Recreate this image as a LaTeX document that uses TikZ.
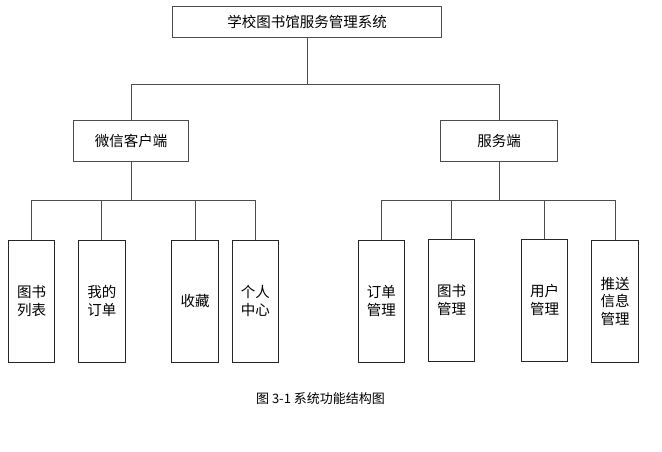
\documentclass[tikz,border=0pt]{standalone}
\usepackage{fontspec}
\setmainfont{Noto Sans CJK SC}
\usetikzlibrary{positioning}

\begin{document}
\begin{tikzpicture}[
  x=1pt, y=-1pt,
  box/.style={rectangle, draw=black!70, line width=1pt, inner sep=0pt, align=center},
  leafbox/.style={rectangle, draw=black!85, line width=1pt, inner sep=0pt, minimum width=46.5pt, minimum height=122pt, align=center},
  line/.style={draw=black!70, line width=1pt},
  every node/.style={font=\fontsize{14.5}{17.5}\selectfont}
]
\useasboundingbox (0,0) rectangle (662,451);

% System and the two sides
\node[box, minimum width=269pt, minimum height=31pt] (sys) at (307,21.5) {学校图书馆服务管理系统};
\node[box, minimum width=114.5pt, minimum height=41pt] (wx) at (131,140.5) {微信客户端};
\node[box, minimum width=116.5pt, minimum height=41pt] (fw) at (499,140.5) {服务端};

% Leaves of the WeChat client
\node[leafbox] (tslb) at (31.7,301) {图书\\列表};
\node[leafbox] (wddd) at (101.8,301) {我的\\订单};
\node[leafbox] (sc) at (195,301) {收藏};
\node[leafbox] (grzx) at (255.3,301) {个人\\中心};

% Leaves of the server
\node[leafbox] (ddgl) at (381.3,301) {订单\\管理};
\node[leafbox] (tsgl) at (451.7,300) {图书\\管理};
\node[leafbox] (yhgl) at (544.7,300) {用户\\管理};
\node[leafbox] (tsxx) at (615,301) {推送\\信息\\管理};

% Connections
\draw[line] (sys.south) -- ++(0,47) coordinate (j0);
\foreach \c in {wx, fw} {
  \draw[line] (j0) -| (\c.north);
}
\draw[line] (wx.south) -- ++(0,39) coordinate (j1);
\foreach \c in {tslb, wddd, sc, grzx} {
  \draw[line] (j1) -| (\c.north);
}
\draw[line] (fw.south) -- ++(0,39) coordinate (j2);
\foreach \c in {ddgl, tsgl, yhgl, tsxx} {
  \draw[line] (j2) -| (\c.north);
}

% Caption
\node[font=\fontsize{13}{15}\selectfont] (cap) at (320.5,399) {图 3-1 系统功能结构图};

\end{tikzpicture}
\end{document}
